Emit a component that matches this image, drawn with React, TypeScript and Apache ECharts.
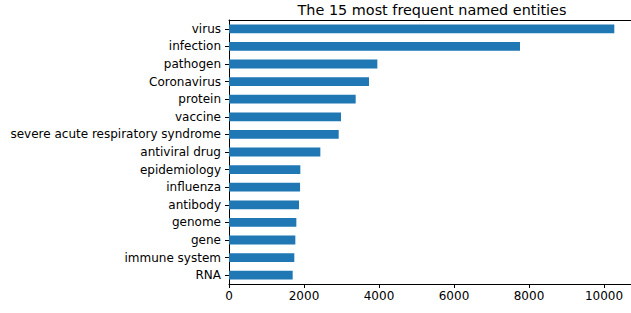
import React, { useEffect, useRef } from "react";
import * as echarts from "echarts";

const categories = [
  "virus",
  "infection",
  "pathogen",
  "Coronavirus",
  "protein",
  "vaccine",
  "severe acute respiratory syndrome",
  "antiviral drug",
  "epidemiology",
  "influenza",
  "antibody",
  "genome",
  "gene",
  "immune system",
  "RNA",
];
const counts = [10275, 7760, 3956, 3733, 3378, 2987, 2925, 2436, 1902, 1895, 1867, 1796, 1769, 1742, 1698];
const xTicks = [0, 2000, 4000, 6000, 8000, 10000];
const titleText = "The 15 most frequent named entities";

const FONT = "DejaVu Sans";

export default function App() {
  const ref = useRef<HTMLDivElement>(null);
  useEffect(() => {
    document.body.style.margin = "0";
    const chart = echarts.init(ref.current!, null, { renderer: "svg" });
    chart.setOption({
      animation: false,
      textStyle: { fontFamily: FONT },
      grid: { left: 229, top: 20, right: 0, bottom: 29, containLabel: false },
      graphic: [
        {
          type: "text",
          x: 432,
          y: 2.5,
          style: {
            text: titleText,
            fontFamily: FONT,
            fontSize: 14.4,
            fill: "#000",
            textAlign: "center",
            textVerticalAlign: "top",
          },
        },
      ],
      xAxis: [
        {
          type: "value",
          min: 0,
          max: 10720,
          interval: 2000,
          position: "bottom",
          splitLine: { show: false },
          axisLine: { show: true, lineStyle: { color: "#000", width: 1 } },
          axisTick: { show: true, length: 4, lineStyle: { color: "#000" } },
          axisLabel: {
            margin: 6,
            fontSize: 12,
            fontFamily: FONT,
            color: "#000",
            showMaxLabel: false,
            formatter: (v: number) => (xTicks.includes(v) ? String(v) : ""),
          },
        },
        {
          type: "value",
          min: 0,
          max: 10720,
          position: "top",
          splitLine: { show: false },
          axisLine: { show: true, lineStyle: { color: "#000", width: 1 } },
          axisTick: { show: false },
          axisLabel: { show: false },
        },
      ],
      yAxis: {
        type: "category",
        data: categories,
        inverse: true,
        axisLine: { show: true, lineStyle: { color: "#000", width: 1 } },
        axisTick: { show: true, alignWithLabel: true, length: 4, lineStyle: { color: "#000" } },
        axisLabel: { margin: 8, fontSize: 12, fontFamily: FONT, color: "#000" },
        splitLine: { show: false },
      },
      series: [
        {
          type: "bar",
          data: counts,
          xAxisIndex: 0,
          barWidth: "50%",
          itemStyle: { color: "#1f77b4" },
        },
      ],
    });
    return () => chart.dispose();
  }, []);
  return <div ref={ref} style={{ width: 631, height: 313 }} />;
}
